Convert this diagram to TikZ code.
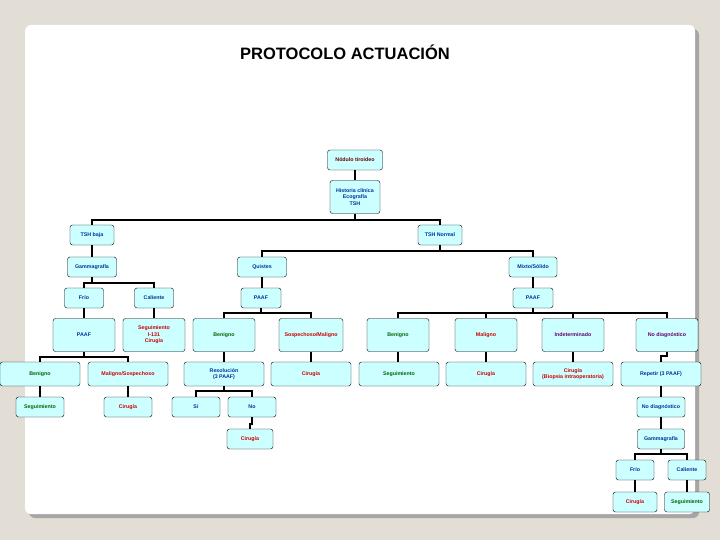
\documentclass[tikz,border=0pt]{standalone}
\usepackage{fontspec}
\setmainfont{Liberation Sans}
\definecolor{bgray}{HTML}{E2DED6}
\definecolor{boxfill}{HTML}{CCFFFF}
\definecolor{tblue}{HTML}{003399}
\definecolor{tred}{HTML}{CC0000}
\definecolor{tgreen}{HTML}{006600}
\definecolor{tpurple}{HTML}{660066}
\definecolor{tdred}{HTML}{660000}
\tikzstyle{box} = [draw, fill=boxfill, rounded corners=2.5pt, thin, align=center, inner sep=1pt, font=\fontsize{5.3}{6.4}\selectfont\bfseries, minimum height=20pt]
\tikzstyle{small} = [box, minimum width=44pt]
\tikzstyle{mid} = [box, minimum width=62pt, minimum height=33pt]
\tikzstyle{wide} = [box, minimum width=80pt, minimum height=24pt]
\tikzstyle{blue} = [text=tblue]
\tikzstyle{red} = [text=tred]
\tikzstyle{green} = [text=tgreen]
\tikzstyle{purple} = [text=tpurple]
\tikzstyle{link} = [line width=2.6pt]

\begin{document}
\begin{tikzpicture}[x=1pt, y=-1pt]
    \useasboundingbox (0,0) rectangle (720,540);
    % Background and panel.
    \fill [bgray] (0,0) rectangle (720,540);
    \fill [gray!70, rounded corners=6pt] (29,29) rectangle (699,518);
    \fill [white, rounded corners=6pt] (25,25) rectangle (695,514);
    \node (title) at (345,52) {\bfseries\fontsize{16.5}{19}\selectfont PROTOCOLO ACTUACIÓN};

    % Top.
    \node (nod) [small, minimum width=55pt, text=tdred] at (355,160) {Nódulo tiroideo};
    \node (hist) [small, minimum width=50pt, minimum height=33pt, blue] at (355,197) {Historia clínica\\Ecografía\\TSH};
    \node (tshb) [small, blue] at (92,235) {TSH baja};
    \node (tshn) [small, blue] at (440,235) {TSH Normal};

    % Left branch.
    \node (gam1) [small, minimum width=49pt, blue] at (92,267) {Gammagrafía};
    \node (frio1) [small, minimum width=39pt, blue] at (84,298) {Frío};
    \node (cal1) [small, minimum width=39pt, blue] at (154,298) {Caliente};
    \node (paaf1) [mid, blue] at (84,335) {PAAF};
    \node (segi) [mid, red] at (154,335) {Seguimiento\\I-131\\Cirugía};
    \node (ben1) [wide, green] at (40,374) {Benigno};
    \node (malsos) [wide, red] at (128,374) {Maligno/Sospechoso};
    \node (seg1) [small, minimum width=48pt, green] at (40,407) {Seguimiento};
    \node (cir1) [small, minimum width=48pt, red] at (128,407) {Cirugía};

    % Quistes.
    \node (quis) [small, minimum width=49pt, blue] at (262,267) {Quistes};
    \node (paaf2) [small, minimum width=40pt, blue] at (261,298) {PAAF};
    \node (ben2) [mid, green] at (224,335) {Benigno};
    \node (sosmal) [mid, minimum width=64pt, red] at (311,335) {Sospechoso/Maligno};
    \node (res) [wide, blue] at (224,374) {Resolución\\(3 PAAF)};
    \node (cir2) [wide, red] at (311,374) {Cirugía};
    \node (si) [small, minimum width=48pt, blue] at (196,407) {Si};
    \node (no) [small, minimum width=48pt, blue] at (252,407) {No};
    \node (cir3) [small, minimum width=46pt, red] at (250,439) {Cirugía};

    % Mixto/Sólido.
    \node (mix) [small, minimum width=48pt, blue] at (533,267) {Mixto/Sólido};
    \node (paaf3) [small, minimum width=40pt, blue] at (533,298) {PAAF};
    \node (ben3) [mid, green] at (398,335) {Benigno};
    \node (mal3) [mid, red] at (486,335) {Maligno};
    \node (ind) [mid, purple] at (573,335) {Indeterminado};
    \node (nodg) [mid, purple] at (667,335) {No diagnóstico};
    \node (seg3) [wide, green] at (399,374) {Seguimiento};
    \node (cir4) [wide, red] at (486,374) {Cirugía};
    \node (cir5) [wide, red] at (573,374) {Cirugía\\(Biopsia intraoperatoria)};
    \node (rep) [wide, blue] at (661,374) {Repetir (3 PAAF)};
    \node (nodg2) [small, minimum width=48pt, blue] at (661,407) {No diagnóstico};
    \node (gam2) [small, minimum width=47pt, blue] at (661,439) {Gammagrafía};
    \node (frio2) [small, minimum width=38pt, blue] at (635,470) {Frío};
    \node (cal2) [small, minimum width=38pt, blue] at (687,470) {Caliente};
    \node (cir6) [small, minimum width=44pt, red] at (635,502) {Cirugía};
    \node (seg4) [small, minimum width=45pt, green] at (687,502) {Seguimiento};

    % Connectors.
    \draw [link] (nod) -- (hist);
    \foreach \p/\c/\y in {hist/tshb/220, hist/tshn/220, tshn/quis/251, tshn/mix/251,
        gam1/frio1/283, gam1/cal1/283, paaf2/ben2/313, paaf2/sosmal/313,
        paaf3/ben3/313, paaf3/mal3/313, paaf3/ind/313, paaf3/nodg/313,
        paaf1/ben1/357, paaf1/malsos/357, res/si/391, res/no/391,
        gam2/frio2/454, gam2/cal2/454, nodg/rep/356, no/cir3/424} {
        \draw [link] (\p.south) -- (\p.south |- 0,\y) -| (\c.north);
    }
    \foreach \p/\c in {tshb/gam1, quis/paaf2, mix/paaf3, frio1/paaf1, cal1/segi,
        ben2/res, sosmal/cir2, ben3/seg3, mal3/cir4, ind/cir5, ben1/seg1,
        malsos/cir1, frio2/cir6, cal2/seg4, rep/nodg2, nodg2/gam2} {
        \draw [link] (\p.south) -- (\p.south |- \c.north);
    }
\end{tikzpicture}
\end{document}
